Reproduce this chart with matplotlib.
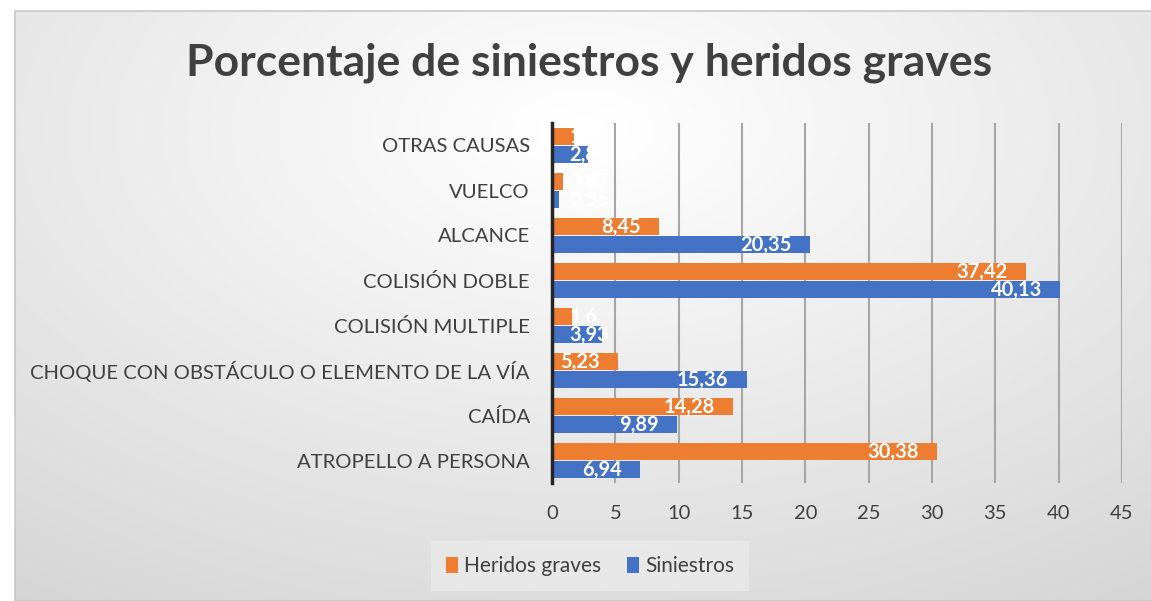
import numpy as np
import matplotlib
matplotlib.use("Agg")
import matplotlib.pyplot as plt
from matplotlib.patches import Rectangle

plt.rcParams['font.family'] = ['Lato', 'DejaVu Sans']

categorias = [
    "ATROPELLO A PERSONA",
    "CAÍDA",
    "CHOQUE CON OBSTÁCULO O ELEMENTO DE LA VÍA",
    "COLISIÓN MULTIPLE",
    "COLISIÓN DOBLE",
    "ALCANCE",
    "VUELCO",
    "OTRAS CAUSAS",
]
heridos_graves = [30.38, 14.28, 5.23, 1.6, 37.42, 8.45, 0.87, 1.77]
siniestros = [6.94, 9.89, 15.36, 3.93, 40.13, 20.35, 0.56, 2.84]
xticks = [0, 5, 10, 15, 20, 25, 30, 35, 40, 45]

naranja = "#ED7D31"
azul = "#4472C4"
texto = "#404040"

W, H = 1151, 601
fig = plt.figure(figsize=(W / 100, H / 100), dpi=100)
fig.patch.set_facecolor("white")

# fondo degradado del área del gráfico
bg = fig.add_axes([15 / W, 0, 1 - 15 / W, (H - 11) / H], zorder=-10)
gx, gy = np.meshgrid(np.linspace(0, 1, 400), np.linspace(0, 1, 300))
r = np.sqrt(((gx - 0.5) / 0.9) ** 2 + ((gy - 0.2) / 1.0) ** 2)
r = np.clip(r, 0, 1)
bg.imshow(1 - 0.17 * r, cmap="gray", vmin=0, vmax=1, aspect="auto",
          extent=(0, 1, 1, 0))
bg.set_xlim(0, 1)
bg.set_ylim(1, 0)
bg.axis("off")
fig.add_artist(Rectangle((15 / W, 0), 1, (H - 11) / H, transform=fig.transFigure,
                         fill=False, edgecolor="#C8C8C8", linewidth=1.2))

ax = fig.add_axes([552 / W, (H - 483) / H, (1122 - 552) / W, (483 - 123) / H])
ax.patch.set_alpha(0)

y = np.arange(len(categorias))
h = 0.37
b1 = ax.barh(y + h / 2 + 0.01, heridos_graves, height=h, color=naranja,
             label="Heridos graves", zorder=3)
b2 = ax.barh(y - h / 2 - 0.01, siniestros, height=h, color=azul,
             label="Siniestros", zorder=3)

for bars, vals in [(b1, heridos_graves), (b2, siniestros)]:
    for bar, v in zip(bars, vals):
        yc = bar.get_y() + bar.get_height() / 2
        etiqueta = f"{v:g}".replace(".", ",")
        if v < 4.5:
            # barras cortas: la etiqueta empieza cerca del eje
            ax.annotate(etiqueta, (0, yc), xytext=(12.5, -0.5),
                        textcoords="offset points", ha="left", va="center",
                        color="white", fontsize=14.5, fontweight="bold",
                        zorder=4, annotation_clip=False)
        else:
            ax.annotate(etiqueta, (v, yc), xytext=(-13, -0.5),
                        textcoords="offset points", ha="right", va="center",
                        color="white", fontsize=14.5, fontweight="bold",
                        zorder=4, annotation_clip=False)

ax.set_xlim(0, 45)
ax.set_ylim(-0.5, 7.5)
ax.set_xticks(xticks)
ax.set_xticklabels([str(t) for t in xticks])
ax.set_yticks(y)
ax.set_yticklabels(categorias)
ax.tick_params(axis="both", length=0, labelcolor=texto)
ax.tick_params(axis="x", pad=16, labelsize=14.5)
ax.tick_params(axis="y", pad=16, labelsize=14.6)
ax.grid(axis="x", color="#A6A6A6", linewidth=1.5, zorder=0)
for s in ["top", "right", "bottom"]:
    ax.spines[s].set_visible(False)
ax.spines["left"].set_color("#262626")
ax.spines["left"].set_linewidth(2.5)
ax.spines["left"].set_zorder(5)

fig.text(589 / W, 1 - 63 / H, "Porcentaje de siniestros y heridos graves",
         ha="center", va="center", fontsize=32, fontweight="bold", color=texto)

leg = fig.legend(handles=[b1, b2], loc="center", bbox_to_anchor=(590 / W, 1 - 566 / H),
                 ncol=2, fontsize=15, frameon=True, fancybox=False,
                 handlelength=0.6, handleheight=0.8, handletextpad=0.3,
                 columnspacing=1.2, borderpad=0.7, borderaxespad=0)
leg.get_frame().set_facecolor("#EAEAEA")
leg.get_frame().set_edgecolor("none")
for t in leg.get_texts():
    t.set_color(texto)

fig.savefig("out.png", dpi=100)
